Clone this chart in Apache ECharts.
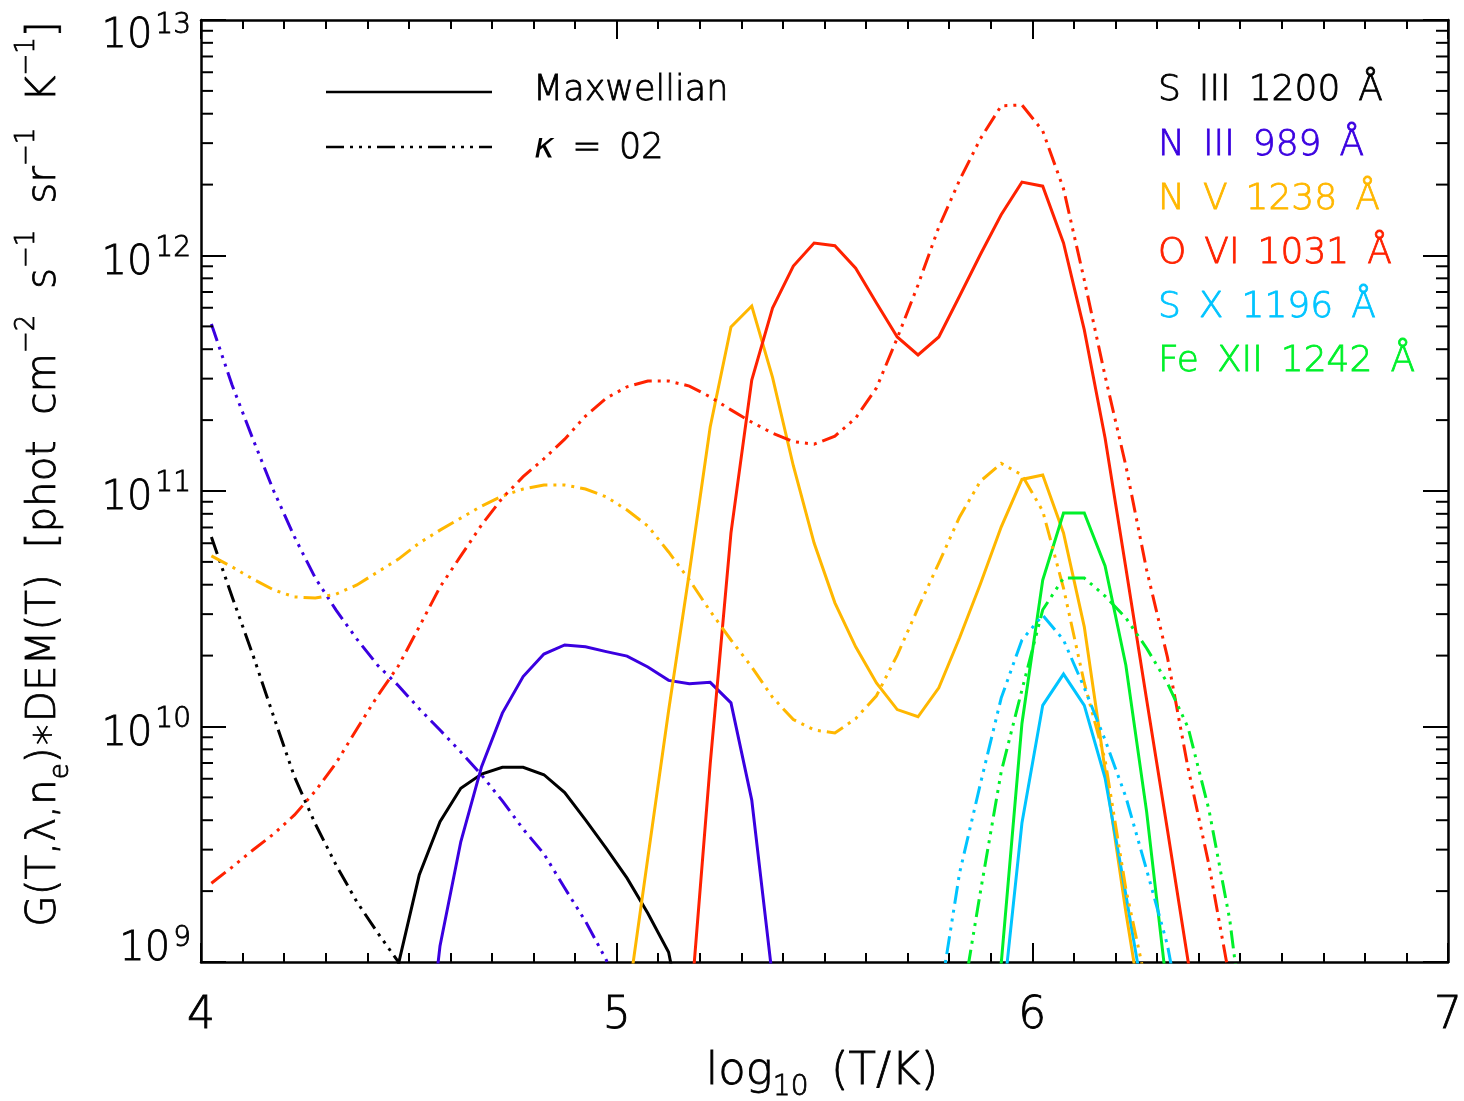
<!DOCTYPE html>
<html>
<head>
<meta charset="utf-8">
<script src="https://cdn.jsdelivr.net/npm/echarts@6/dist/echarts.min.js"></script>
<style>
html, body { margin: 0; padding: 0; background: #ffffff; }
#chart { width: 1464px; height: 1101px; }
</style>
</head>
<body>
<div id="chart"></div>
<script>
// Temperature grid, log10(T/K)
const logT = [
  4.025, 4.075, 4.125, 4.175, 4.225, 4.275, 4.325, 4.375, 4.425, 4.475,
  4.525, 4.575, 4.625, 4.675, 4.725, 4.775, 4.825, 4.875, 4.925, 4.975,
  5.025, 5.075, 5.125, 5.175, 5.225, 5.275, 5.325, 5.375, 5.425, 5.475,
  5.525, 5.575, 5.625, 5.675, 5.725, 5.775, 5.825, 5.875, 5.925, 5.975,
  6.025, 6.075, 6.125, 6.175, 6.225, 6.275, 6.325, 6.375, 6.425, 6.475,
  6.525
];

// G(T,lambda,ne)*DEM(T) for each line; null = not computed at that T
const s3Max = [
  null, null, null, null, null, null, null, null, 3e8, 9.8e8,
  2.34e9, 3.94e9, 5.47e9, 6.28e9, 6.71e9, 6.71e9, 6.24e9, 5.24e9, 4.01e9, 3.04e9,
  2.27e9, 1.61e9, 1.10e9, 4e8, null, null, null, null, null, null,
  null, null, null, null, null, null, null, null, null, null,
  null, null, null, null, null, null, null, null, null, null, null
];
const s3Kap = [
  6.38e10, 3.55e10, 2.01e10, 1.10e10, 6.11e9, 3.86e9, 2.58e9, 1.80e9, 1.33e9, 1.0e9,
  4e8, null, null, null, null, null, null, null, null, null,
  null, null, null, null, null, null, null, null, null, null,
  null, null, null, null, null, null, null, null, null, null,
  null, null, null, null, null, null, null, null, null, null, null
];
const n3Max = [
  null, null, null, null, null, null, null, null, null, null,
  2e8, 1.17e9, 3.24e9, 6.75e9, 1.14e10, 1.63e10, 2.03e10, 2.22e10, 2.18e10, 2.08e10,
  1.99e10, 1.79e10, 1.57e10, 1.52e10, 1.54e10, 1.26e10, 4.87e9, 8.5e8, null, null,
  null, null, null, null, null, null, null, null, null, null,
  null, null, null, null, null, null, null, null, null, null, null
];
const n3Kap = [
  5.12e11, 2.81e11, 1.66e11, 1.0e11, 6.38e10, 4.27e10, 3.12e10, 2.35e10, 1.82e10, 1.49e10,
  1.19e10, 9.66e9, 7.80e9, 6.22e9, 4.83e9, 3.67e9, 2.88e9, 2.06e9, 1.49e9, 1.02e9,
  6e8, null, null, null, null, null, null, null, null, null,
  null, null, null, null, null, null, null, null, null, null,
  null, null, null, null, null, null, null, null, null, null, null
];
const n5Max = [
  null, null, null, null, null, null, null, null, null, null,
  null, null, null, null, null, null, null, null, null, null,
  6.5e8, 2.77e9, 1.17e10, 4.53e10, 1.87e11, 4.97e11, 6.10e11, 3.04e11, 1.28e11, 6.01e10,
  3.35e10, 2.18e10, 1.53e10, 1.18e10, 1.10e10, 1.46e10, 2.38e10, 4.03e10, 7.03e10, 1.12e11,
  1.17e11, 6.64e10, 2.65e10, 6.53e9, 1.63e9, 4.6e8, null, null, null, null, null
];
const n5Kap = [
  5.30e10, 4.76e10, 4.23e10, 3.80e10, 3.55e10, 3.51e10, 3.65e10, 3.99e10, 4.53e10, 5.14e10,
  6.01e10, 6.82e10, 7.67e10, 8.63e10, 9.52e10, 1.02e11, 1.06e11, 1.06e11, 1.02e11, 9.44e10,
  8.30e10, 7.10e10, 5.51e10, 4.19e10, 3.09e10, 2.33e10, 1.79e10, 1.33e10, 1.07e10, 9.67e9,
  9.38e9, 1.08e10, 1.35e10, 2.01e10, 3.18e10, 4.94e10, 7.76e10, 1.10e11, 1.31e11, 1.17e11,
  8.22e10, 3.87e10, 1.53e10, 7.21e9, 2.04e9, 7.9e8, null, null, null, null, null
];
const o6Max = [
  null, null, null, null, null, null, null, null, null, null,
  null, null, null, null, null, null, null, null, null, null,
  null, null, null, 5.5e8, 6.93e9, 6.64e10, 2.96e11, 5.98e11, 9.02e11, 1.13e12,
  1.10e12, 8.84e11, 6.28e11, 4.51e11, 3.78e11, 4.51e11, 6.73e11, 1.01e12, 1.49e12, 2.05e12,
  1.97e12, 1.13e12, 4.83e11, 1.68e11, 4.71e10, 1.30e10, 3.64e9, 1.0e9, 2.8e8, null, null
];
const o6Kap = [
  2.16e9, 2.53e9, 2.99e9, 3.50e9, 4.21e9, 5.32e9, 7.00e9, 9.76e9, 1.35e10, 1.81e10,
  2.65e10, 3.91e10, 5.30e10, 7.18e10, 9.34e10, 1.15e11, 1.37e11, 1.66e11, 2.08e11, 2.48e11,
  2.77e11, 2.93e11, 2.93e11, 2.79e11, 2.51e11, 2.21e11, 1.96e11, 1.76e11, 1.62e11, 1.58e11,
  1.71e11, 2.04e11, 2.74e11, 4.46e11, 7.50e11, 1.32e12, 2.09e12, 3.13e12, 4.32e12, 4.36e12,
  3.38e12, 1.92e12, 7.87e11, 3.08e11, 1.28e11, 4.62e10, 1.97e10, 6.61e9, 2.58e9, 8.4e8, null
];
const s10Max = [
  null, null, null, null, null, null, null, null, null, null,
  null, null, null, null, null, null, null, null, null, null,
  null, null, null, null, null, null, null, null, null, null,
  null, null, null, null, null, null, null, null, 5.7e8, 3.89e9,
  1.23e10, 1.67e10, 1.23e10, 6.04e9, 1.93e9, 5.9e8, null, null, null, null, null
];
const s10Kap = [
  null, null, null, null, null, null, null, null, null, null,
  null, null, null, null, null, null, null, null, null, null,
  null, null, null, null, null, null, null, null, null, null,
  null, null, null, null, null, 6.6e8, 2.39e9, 5.70e9, 1.32e10, 2.33e10,
  2.97e10, 2.33e10, 1.46e10, 8.77e9, 5.02e9, 2.46e9, 1.18e9, 4.0e8, null, null, null
];
const fe12Max = [
  null, null, null, null, null, null, null, null, null, null,
  null, null, null, null, null, null, null, null, null, null,
  null, null, null, null, null, null, null, null, null, null,
  null, null, null, null, null, null, null, 2e8, 9.8e8, 1.03e10,
  4.19e10, 8.07e10, 8.07e10, 4.81e10, 1.82e10, 4.34e9, 7.4e8, null, null, null, null
];
const fe12Kap = [
  null, null, null, null, null, null, null, null, null, null,
  null, null, null, null, null, null, null, null, null, null,
  null, null, null, null, null, null, null, null, null, null,
  null, null, null, null, null, null, 5.8e8, 1.98e9, 6.41e9, 1.43e10,
  3.13e10, 4.27e10, 4.27e10, 3.58e10, 2.89e10, 2.15e10, 1.53e10, 9.86e9, 4.42e9, 1.51e9,
  3e8
];

// Spectral lines: label text, colour, Maxwellian and kappa=2 curves
const lineLabels = ['S\u2002III\u20021200\u2002Å', 'N\u2002III\u2002989\u2002Å', 'N\u2002V\u20021238\u2002Å',
                    'O\u2002VI\u20021031\u2002Å', 'S\u2002X\u20021196\u2002Å', 'Fe\u2002XII\u20021242\u2002Å'];
const lineColors = ['#000000', '#3a00e0', '#ffb700', '#ff2200', '#00c4ff', '#00f02a'];
const maxwellSets = [s3Max, n3Max, n5Max, o6Max, s10Max, fe12Max];
const kappaSets = [s3Kap, n3Kap, n5Kap, o6Kap, s10Kap, fe12Kap];

// Axis ticks
const xTickValues = [4, 5, 6, 7];
const yDecades = [1e9, 1e10, 1e11, 1e12, 1e13];
const yMinorTicks = [];
for (let d = 9; d < 13; d++) {
  for (let m = 2; m <= 9; m++) yMinorTicks.push(m * Math.pow(10, d));
}

const FONT = "'DejaVu Sans', sans-serif";
const FW = 200;
const TB = 0.8; // slight outline to give the thin face a little more weight
const DASH_3DOT = [18, 6, 3, 6, 3, 6, 3, 6];

function pairs(values) {
  const out = [];
  values.forEach((v, i) => { if (v !== null) out.push([logT[i], v]); });
  return out;
}

// text style for axis labels (component style names)
function txt(size, color, extra) {
  return Object.assign({
    fontFamily: FONT, fontWeight: FW, fontSize: size, color: color,
    textBorderColor: color, textBorderWidth: TB
  }, extra || {});
}
// text style for graphic elements (zrender style names)
function gtxt(size, color, extra) {
  return Object.assign({
    fontFamily: FONT, fontWeight: FW, fontSize: size, fill: color,
    stroke: color, lineWidth: TB
  }, extra || {});
}

const series = [];
maxwellSets.forEach((vals, i) => {
  series.push({
    name: lineLabels[i] + ' Maxwellian',
    type: 'line', data: pairs(vals), showSymbol: false, symbol: 'none',
    clip: true, silent: true, z: 3,
    lineStyle: { color: lineColors[i], width: 3, type: 'solid', cap: 'butt', join: 'miter' }
  });
});
kappaSets.forEach((vals, i) => {
  series.push({
    name: lineLabels[i] + ' kappa',
    type: 'line', data: pairs(vals), showSymbol: false, symbol: 'none',
    clip: true, silent: true, z: 3,
    lineStyle: { color: lineColors[i], width: 3, type: DASH_3DOT, cap: 'butt', join: 'miter' }
  });
});

// minor ticks of the log axis at 2..9 x 10^n, on both sides of the frame
series.push({
  type: 'custom', silent: true, z: 5,
  data: yMinorTicks.map(v => [4, v]),
  renderItem: function (params, api) {
    const cs = params.coordSys;
    const y = api.coord([4, api.value(1)])[1];
    const st = { stroke: '#000', lineWidth: 2 };
    return {
      type: 'group',
      children: [
        { type: 'line', shape: { x1: cs.x, y1: y, x2: cs.x + 12, y2: y }, style: st },
        { type: 'line', shape: { x1: cs.x + cs.width - 12, y1: y, x2: cs.x + cs.width, y2: y }, style: st }
      ]
    };
  }
});

// "10" with a raised exponent. Every token fills the same 80px line box, so the
// top padding alone fixes where its glyphs sit against the tick.
const LB = 80;
function baseTok(pTop) {
  return txt(40, '#000', { lineHeight: 40, padding: [pTop, 0, LB - 40 - pTop, 0] });
}
function expTok(pTop) {
  return txt(28, '#000', { lineHeight: 28, padding: [pTop, 0, LB - 28 - pTop, 3] });
}
const supRich = {
  b: baseTok(28), s: expTok(19),
  bt: baseTok(37), st: expTok(32),
  bb: baseTok(8), sb: expTok(3)
};

const axisCommon = {
  axisLine: { show: true, onZero: false, lineStyle: { color: '#000', width: 2.5 } },
  splitLine: { show: false }
};

const option = {
  animation: false,
  backgroundColor: '#ffffff',
  grid: { left: 201, right: 16, top: 20, bottom: 139, containLabel: false, outerBoundsMode: 'none' },
  xAxis: [
    Object.assign({
      type: 'value', min: 4, max: 7, interval: 1, position: 'bottom',
      axisTick: { show: true, inside: true, length: 19, lineStyle: { width: 2, color: '#000' } },
      minorTick: { show: true, splitNumber: 10, length: 9, lineStyle: { width: 2, color: '#000' } },
      axisLabel: Object.assign({
        show: true, margin: 33,
        formatter: v => xTickValues.includes(v) ? String(v) : ''
      }, txt(44, '#000'))
    }, axisCommon),
    Object.assign({
      type: 'value', min: 4, max: 7, interval: 1, position: 'top',
      axisTick: { show: true, inside: true, length: 19, lineStyle: { width: 2, color: '#000' } },
      minorTick: { show: true, splitNumber: 10, length: 9, lineStyle: { width: 2, color: '#000' } },
      axisLabel: { show: false }
    }, axisCommon)
  ],
  yAxis: [
    Object.assign({
      type: 'log', logBase: 10, min: 1e9, max: 1e13, position: 'left',
      axisTick: { show: true, inside: true, length: 25, lineStyle: { width: 2, color: '#000' } },
      minorTick: { show: false },
      axisLabel: {
        show: true, margin: 10, align: 'right', verticalAlign: 'middle',
        formatter: function (v) {
          const e = Math.round(Math.log10(v));
          if (!yDecades.includes(Math.pow(10, e))) return '';
          if (e === 13) return '{bt|10}{st|' + e + '}';
          if (e === 9) return '{bb|10}{sb|' + e + '}';
          return '{b|10}{s|' + e + '}';
        },
        rich: supRich
      }
    }, axisCommon),
    Object.assign({
      type: 'log', logBase: 10, min: 1e9, max: 1e13, position: 'right',
      axisTick: { show: true, inside: true, length: 25, lineStyle: { width: 2, color: '#000' } },
      minorTick: { show: false },
      axisLabel: { show: false }
    }, axisCommon)
  ],
  series: series,
  graphic: [
    // y axis title
    {
      type: 'text', x: 44, y: 474, rotation: Math.PI / 2, silent: true,
      style: {
        text: '{n|G(T,λ,n}{sub|e}{n|)∗DEM(T)  [phot  cm}{sup|−2}{n|  s}{sup|−1}{n|  sr}{sup|−1}{n|  K}{sup|−1}{n|]}',
        align: 'center', verticalAlign: 'middle',
        rich: {
          n: gtxt(40.5, '#000', { lineHeight: 60 }),
          sub: gtxt(26, '#000', { lineHeight: 28, verticalAlign: 'bottom' }),
          sup: gtxt(26, '#000', { lineHeight: 28, verticalAlign: 'top' })
        }
      }
    },
    // x axis title
    {
      type: 'text', x: 822, y: 1072, silent: true,
      style: {
        text: '{n|log}{sub|10}{n|\u2002(T/K)}',
        align: 'center', verticalAlign: 'middle',
        rich: {
          n: gtxt(45, '#000', { lineHeight: 60 }),
          sub: gtxt(28, '#000', { lineHeight: 28, verticalAlign: 'bottom' })
        }
      }
    },
    // line-style key
    { type: 'line', silent: true, shape: { x1: 326, y1: 92, x2: 492, y2: 92 },
      style: { stroke: '#000', lineWidth: 2.5 } },
    { type: 'line', silent: true, shape: { x1: 326, y1: 147, x2: 492, y2: 147 },
      style: { stroke: '#000', lineWidth: 2.5, lineDash: DASH_3DOT } },
    { type: 'text', silent: true, x: 533, y: 91,
      style: gtxt(35, '#000', { text: 'Maxwellian', align: 'left', verticalAlign: 'middle' }) },
    { type: 'text', silent: true, x: 534, y: 149,
      style: {
        text: '{k|κ}{n|\u2002=\u200202}', align: 'left', verticalAlign: 'middle',
        rich: {
          k: gtxt(35, '#000', { fontStyle: 'italic', lineWidth: 0 }),
          n: gtxt(35, '#000')
        }
      } }
  ].concat(lineLabels.map((t, i) => ({
    type: 'text', silent: true, x: 1158, y: 91 + i * 54.2,
    style: gtxt(36, lineColors[i], { text: t, align: 'left', verticalAlign: 'middle' })
  })))
};

const chart = echarts.init(document.getElementById('chart'), null, { renderer: 'canvas' });
chart.setOption(option);
</script>
</body>
</html>
